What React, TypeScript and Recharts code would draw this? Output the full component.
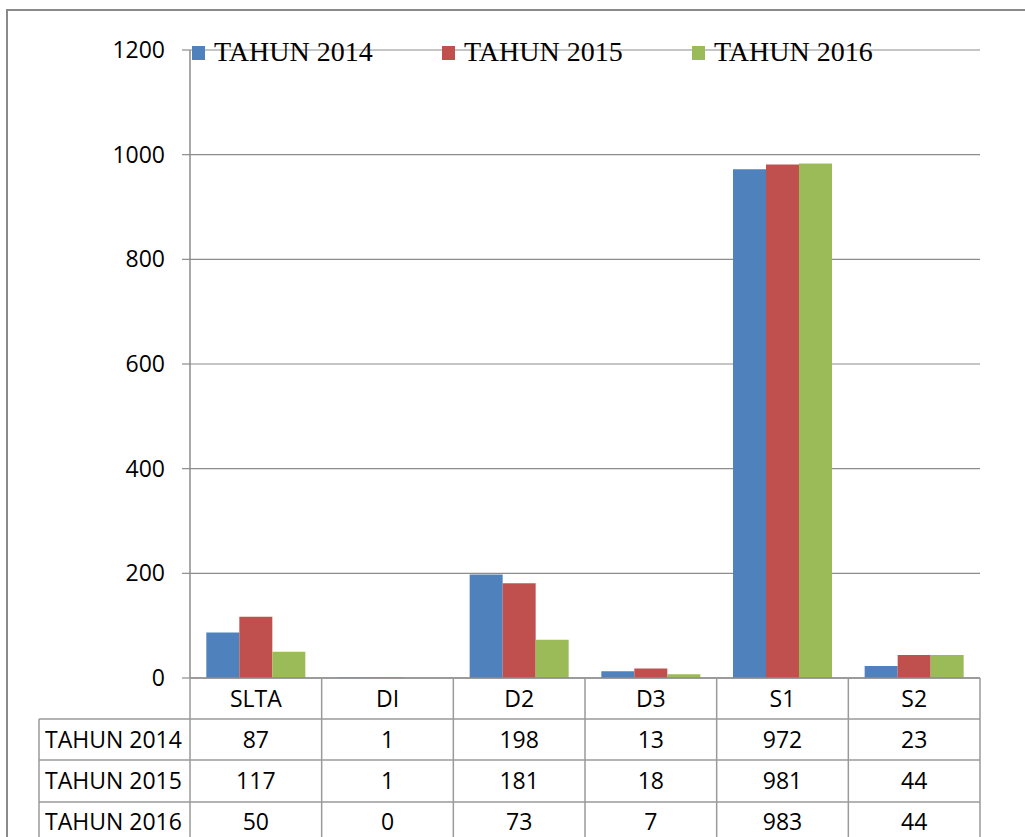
import React from 'react';
import { BarChart, Bar, XAxis, YAxis, CartesianGrid, Legend } from 'recharts';

const categories = ['SLTA', 'DI', 'D2', 'D3', 'S1', 'S2'];
const tahun2014 = [87, 1, 198, 13, 972, 23];
const tahun2015 = [117, 1, 181, 18, 981, 44];
const tahun2016 = [50, 0, 73, 7, 983, 44];
const seriesNames = ['TAHUN 2014', 'TAHUN 2015', 'TAHUN 2016'];
const seriesKeys = ['t2014', 't2015', 't2016'];
const seriesValues = [tahun2014, tahun2015, tahun2016];
const seriesColors = ['#4F81BD', '#C0504D', '#9BBB59'];
const yTicks = [0, 200, 400, 600, 800, 1000, 1200];

const data = categories.map((c, i) => ({
  name: c,
  t2014: tahun2014[i],
  t2015: tahun2015[i],
  t2016: tahun2016[i],
}));

const W = 1025;
const H = 837;
const PLOT_LEFT = 190;
const PLOT_RIGHT = 980;
const PLOT_TOP = 50;
const AXIS_Y = 678;
const BAND = (PLOT_RIGHT - PLOT_LEFT) / categories.length;
const ROW_LINES = [719, 760, 802];
const HEADER_BASE = 707;
const ROW_BASES = [748, 789, 830];
const TABLE_LEFT = 39;
const GRID = '#8c8c8c';
const TABLE_LINE = '#9a9a9a';
const SANS = '"Open Sans", sans-serif';
const FS = 23;

function TableTick(props: any) {
  const { x, payload } = props;
  const i = payload && payload.index != null ? payload.index : props.index;
  const half = BAND / 2;
  const lines: any[] = [];
  lines.push(
    <line key="v" x1={x + half} x2={x + half} y1={AXIS_Y} y2={H + 10} stroke={TABLE_LINE} strokeWidth={1.5} />
  );
  ROW_LINES.forEach((ly, k) => {
    lines.push(
      <line key={'h' + k} x1={x - half} x2={x + half} y1={ly} y2={ly} stroke={TABLE_LINE} strokeWidth={1.5} />
    );
  });
  return (
    <g>
      {i === 0 && (
        <g>
          <line x1={PLOT_LEFT} x2={PLOT_LEFT} y1={AXIS_Y} y2={H + 10} stroke={TABLE_LINE} strokeWidth={1.5} />
          <line x1={TABLE_LEFT} x2={TABLE_LEFT} y1={ROW_LINES[0]} y2={H + 10} stroke={TABLE_LINE} strokeWidth={1.5} />
          {ROW_LINES.map((ly, k) => (
            <line key={k} x1={TABLE_LEFT} x2={PLOT_LEFT} y1={ly} y2={ly} stroke={TABLE_LINE} strokeWidth={1.5} />
          ))}
          {seriesNames.map((s, k) => (
            <text key={s} x={TABLE_LEFT + 6} y={ROW_BASES[k]} fontFamily={SANS} fontSize={FS} fill="#000">
              {s}
            </text>
          ))}
        </g>
      )}
      {lines}
      <text x={x} y={HEADER_BASE} textAnchor="middle" fontFamily={SANS} fontSize={FS} fill="#000">
        {payload.value}
      </text>
      {seriesValues.map((vals, k) => (
        <text key={k} x={x} y={ROW_BASES[k]} textAnchor="middle" fontFamily={SANS} fontSize={FS} fill="#000">
          {vals[i]}
        </text>
      ))}
    </g>
  );
}

function LegendContent(props: any) {
  return (
    <svg width={W} height={80} style={{ position: 'absolute', top: 0, left: 0, overflow: 'visible' }}>
      {seriesNames.map((s, k) => (
        <g key={s}>
          <rect x={192 + 250 * k} y={46} width={13} height={14} fill={seriesColors[k]} />
          <text x={214 + 250 * k} y={61} fontFamily='"Liberation Serif", serif' fontSize={28} fill="#000">
            {s}
          </text>
        </g>
      ))}
    </svg>
  );
}

export default function App() {
  return (
    <div style={{ position: 'absolute', left: 0, top: 0, width: W, height: H, overflow: 'hidden', background: '#fff' }}>
      <div
        style={{
          position: 'absolute',
          left: 6,
          top: 9,
          width: 2000,
          height: 2000,
          borderLeft: '2px solid #8a8a8a',
          borderTop: '2px solid #8a8a8a',
        }}
      />
      <div style={{ position: 'absolute', left: 0, top: 0 }}>
        <BarChart
          width={W}
          height={H}
          data={data}
          margin={{ top: PLOT_TOP, right: W - PLOT_RIGHT, bottom: 0, left: 0 }}
          barCategoryGap="12.4%"
          barGap={0}
        >
          <CartesianGrid vertical={false} stroke={GRID} strokeWidth={1.2} />
          <YAxis
            width={PLOT_LEFT}
            domain={[0, 1200]}
            ticks={yTicks}
            interval={0}
            axisLine={{ stroke: GRID, strokeWidth: 1.5 }}
            tickLine={{ stroke: GRID, strokeWidth: 1.2 }}
            tickSize={8}
            tickMargin={17}
            tick={{ fontFamily: SANS, fontSize: FS, fill: '#000' }}
          />
          <XAxis
            dataKey="name"
            height={H - AXIS_Y}
            interval={0}
            axisLine={{ stroke: GRID, strokeWidth: 1.5 }}
            tickLine={false}
            tick={<TableTick />}
          />
          {seriesKeys.map((k, idx) => (
            <Bar key={k} dataKey={k} name={seriesNames[idx]} fill={seriesColors[idx]} isAnimationActive={false} />
          ))}
          <Legend
            content={<LegendContent />}
            verticalAlign="top"
            wrapperStyle={{ position: 'absolute', top: 0, left: 0, width: W, height: 0 }}
          />
        </BarChart>
      </div>
    </div>
  );
}
